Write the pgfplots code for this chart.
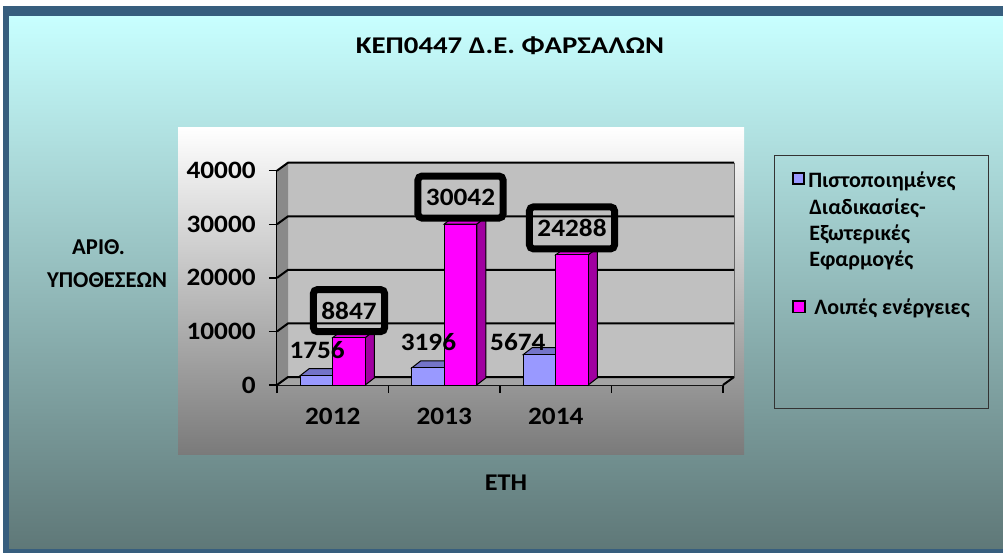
\documentclass[border=0pt]{standalone}
\usepackage{fontspec}
\setmainfont{Carlito}
\newfontfamily\numfont[FakeStretch=1.09]{Carlito}
\newfontfamily\titlefont[FakeStretch=1.2]{Carlito}
\usepackage{pgfplots}
\usepackage{pgfplotstable}
\pgfplotsset{compat=1.18}

\definecolor{frameblue}{HTML}{375E7E}
\definecolor{bgtop}{HTML}{C8FFFF}
\definecolor{bgbot}{HTML}{5F7878}
\definecolor{blueF}{HTML}{9999FF}
\definecolor{blueT}{HTML}{7474C8}
\definecolor{blueS}{HTML}{5C5CA8}
\definecolor{magF}{HTML}{FF00FF}
\definecolor{magT}{HTML}{E000E0}
\definecolor{magS}{HTML}{A000A0}
\definecolor{wallc}{HTML}{C0C0C0}
\definecolor{sidewall}{HTML}{8A8A8A}
\definecolor{floorc}{HTML}{A4A4A4}

\pgfplotstableread{
x v dx dy
0 1756 -15.6 26
1 3196 -15.8 26
2 5674 -37.9 13
}\pistdata
\pgfplotstableread{
x v
0 8847
1 30042
2 24288
}\loipdata

\begin{document}
\begin{tikzpicture}[x=0.75pt,y=-0.75pt]
\useasboundingbox (0,0) rectangle (1003,553);
\fill[white] (0,0) rectangle (1003,553);
\fill[frameblue] (3,6) rectangle (1003,553);
\shade[top color=bgtop, bottom color=bgbot] (9,16) rectangle (1003,548);
\shade[top color=white, bottom color=black!52] (178,127) rectangle (744,454);
% legend
\draw[black!80, line width=0.75pt] (774,155) rectangle (988,408);
\draw[fill=blueF, draw=black, line width=1.1pt] (793,173) rectangle (804,184);
\draw[fill=magF, draw=black, line width=1.1pt] (793,301) rectangle (805,312.5);
\begin{scope}[every node/.style={anchor=base west, inner sep=0pt, font=\fontsize{16.5}{19}\selectfont\bfseries}]
\node at (808,187.7) {Πιστοποιημένες};
\node at (809,214) {Διαδικασίες-};
\node at (809,240.3) {Εξωτερικές};
\node at (809,266.6) {Εφαρμογές};
\node at (814,314) {Λοιπές ενέργειες};
\end{scope}

\begin{axis}[
  at={(207.75pt,-288.75pt)}, anchor=south west,
  width=334.5pt, height=160.725pt, scale only axis,
  xmin=-0.5, xmax=3.5, ymin=0, ymax=40000,
  clip=false,
  axis lines*=left,
  axis line style={black, line width=1.1pt},
  ytick={0,10000,20000,30000,40000},
  xtick={0,1,2}, xticklabels={2012,2013,2014},
  minor xtick={-0.5,0.5,1.5,2.5,3.5},
  tick align=outside,
  major tick length=6pt, minor tick length=6pt,
  major x tick style={draw=none},
  minor x tick style={black, line width=1.1pt},
  major y tick style={black, line width=1.1pt},
  tick label style={font=\fontsize{18.75}{22}\numfont\bfseries},
  /pgf/number format/assume math mode=true,
  /pgf/number format/1000 sep={},
  scaled y ticks=false,
  yticklabel style={xshift=-6.5pt},
  xticklabel style={yshift=-8pt},
  title={ΚΕΠ0447 Δ.Ε. ΦΑΡΣΑΛΩΝ},
  title style={at={(axis description cs:0.5224,1.545)}, anchor=center, font=\fontsize{18}{22}\titlefont\bfseries},
  xlabel={ΕΤΗ},
  xlabel style={at={(axis description cs:0.5135,-0.457)}, anchor=center, font=\fontsize{18}{22}\numfont\bfseries},
  ylabel={ΑΡΙΘ.\hspace*{12.75pt}\\ΥΠΟΘΕΣΕΩΝ},
  ylabel style={at={(axis description cs:-0.381,0.566)}, anchor=center, rotate=-90, align=center, font=\fontsize{17}{24.4}\selectfont\bfseries},
]
% walls
\addplot[fill=floorc, draw=none] coordinates {(-0.5,0) (3.5,0) (3.5987,1493) (-0.4013,1493)} --cycle;
\addplot[fill=wallc, draw=none] coordinates {(-0.4013,1493) (3.5987,1493) (3.5987,41493) (-0.4013,41493)} --cycle;
\addplot[fill=sidewall, draw=none] coordinates {(-0.5,0) (-0.4013,1493) (-0.4013,41493) (-0.5,40000)} --cycle;
\addplot[draw=black!60, line width=0.75pt] coordinates {(3.5987,1493) (3.5987,41493)};
% grid lines
\addplot[black, line width=1.5pt] coordinates {(-0.5,0) (-0.4013,1493) (3.5987,1493)};
\addplot[black, line width=1.5pt] coordinates {(-0.5,10000) (-0.4013,11493) (3.5987,11493)};
\addplot[black, line width=1.5pt] coordinates {(-0.5,20000) (-0.4013,21493) (3.5987,21493)};
\addplot[black, line width=1.5pt] coordinates {(-0.5,30000) (-0.4013,31493) (3.5987,31493)};
\addplot[black, line width=1.5pt] coordinates {(-0.5,40000) (-0.4013,41493) (3.5987,41493)};
\addplot[black, line width=1.5pt] coordinates {(3.5,0) (3.5987,1493)};
% blue bars: side and top faces
\addplot[fill=blueS, draw=black, line width=0.75pt] coordinates {(0,0) (0,1756) (0.0807,3062) (0.0807,1306)} --cycle;
\addplot[fill=blueT, draw=black, line width=0.75pt] coordinates {(-0.2915,1756) (0,1756) (0.0807,3062) (-0.2108,3062)} --cycle;
\addplot[fill=blueS, draw=black, line width=0.75pt] coordinates {(1,0) (1,3196) (1.0807,4502) (1.0807,1306)} --cycle;
\addplot[fill=blueT, draw=black, line width=0.75pt] coordinates {(0.7085,3196) (1,3196) (1.0807,4502) (0.7892,4502)} --cycle;
\addplot[fill=blueS, draw=black, line width=0.75pt] coordinates {(2,0) (2,5674) (2.0807,6980) (2.0807,1306)} --cycle;
\addplot[fill=blueT, draw=black, line width=0.75pt] coordinates {(1.7085,5674) (2,5674) (2.0807,6980) (1.7892,6980)} --cycle;
\addplot[ybar, bar width=0.2915, bar shift=-0.14575, fill=blueF, draw=black, line width=0.75pt] table[x=x, y=v] {\pistdata};
% magenta bars: side and top faces
\addplot[fill=magS, draw=black, line width=0.75pt] coordinates {(0.2915,0) (0.2915,8847) (0.3722,10153) (0.3722,1306)} --cycle;
\addplot[fill=magT, draw=black, line width=0.75pt] coordinates {(0,8847) (0.2915,8847) (0.3722,10153) (0.0807,10153)} --cycle;
\addplot[fill=magS, draw=black, line width=0.75pt] coordinates {(1.2915,0) (1.2915,30042) (1.3722,31348) (1.3722,1306)} --cycle;
\addplot[fill=magT, draw=black, line width=0.75pt] coordinates {(1,30042) (1.2915,30042) (1.3722,31348) (1.0807,31348)} --cycle;
\addplot[fill=magS, draw=black, line width=0.75pt] coordinates {(2.2915,0) (2.2915,24288) (2.3722,25594) (2.3722,1306)} --cycle;
\addplot[fill=magT, draw=black, line width=0.75pt] coordinates {(2,24288) (2.2915,24288) (2.3722,25594) (2.0807,25594)} --cycle;
\addplot[ybar, bar width=0.2915, bar shift=0.14575, fill=magF, draw=black, line width=0.75pt] table[x=x, y=v] {\loipdata};
% value labels
\addplot[ybar, bar width=0.2915, bar shift=-0.14575, draw=none, fill=none,
  visualization depends on={\thisrow{dx} \as \ldx},
  visualization depends on={\thisrow{dy} \as \ldy},
  point meta=explicit symbolic,
  nodes near coords,
  every node near coord/.style={anchor=center, xshift=\ldx*0.75pt, yshift=\ldy*0.75pt, inner sep=0pt, black, font=\fontsize{18.75}{22}\numfont\bfseries}
] table[x=x, y=v, meta=v] {\pistdata};
\addplot[ybar, bar width=0.2915, bar shift=0.14575, draw=none, fill=none,
  point meta=explicit symbolic,
  nodes near coords,
  every node near coord/.style={anchor=center, xshift=12.2pt, yshift=20.25pt, draw=black, line width=5.25pt, rounded corners=3pt, inner xsep=6pt, inner ysep=0pt, minimum height=31.5pt, black, font=\fontsize{18.75}{22}\numfont\bfseries}
] table[x=x, y=v, meta=v] {\loipdata};
\end{axis}
\end{tikzpicture}
\end{document}
